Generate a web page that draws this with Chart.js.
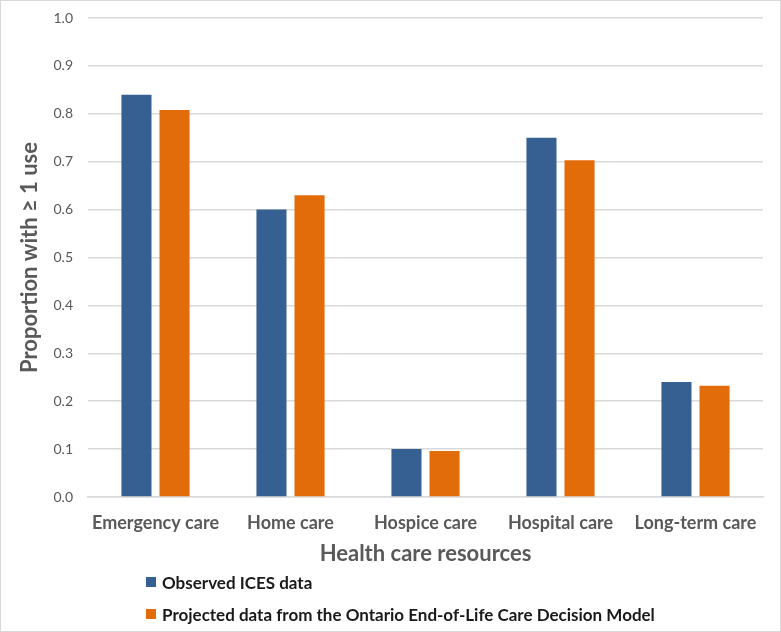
<!DOCTYPE html>
<html>
<head>
<meta charset="utf-8">
<script src="https://cdn.jsdelivr.net/npm/chart.js@4"></script>
<style>
  body { margin: 0; background: #fff; }
  #wrap { position: relative; width: 781px; height: 632px; box-sizing: border-box; border: 1px solid #d9d9d9; }
  #legend { position: absolute; left: 145px; top: 565px; font-family: Lato, "Open Sans", sans-serif; font-weight: bold; font-size: 17px; color: #1a1a1a; }
  .item { display: flex; align-items: center; height: 32px; }
  .box { width: 10px; height: 10px; margin-right: 6px; }
</style>
</head>
<body>
<div id="wrap">
  <canvas id="chart" width="779" height="630"></canvas>
  <div id="legend"></div>
</div>
<script>
const categories = ["Emergency care", "Home care", "Hospice care", "Hospital care", "Long-term care"];
const observed = [0.84, 0.60, 0.10, 0.75, 0.24];
const projected = [0.808, 0.63, 0.096, 0.703, 0.232];
const seriesNames = ["Observed ICES data", "Projected data from the Ontario End-of-Life Care Decision Model"];
const seriesColors = ["#376092", "#E36C0A"];

const font = "Lato, 'Open Sans', sans-serif";
const gray = "#595959";

new Chart(document.getElementById("chart"), {
  type: "bar",
  data: {
    labels: categories,
    datasets: [
      { label: seriesNames[0], data: observed, backgroundColor: seriesColors[0] },
      { label: seriesNames[1], data: projected, backgroundColor: seriesColors[1] },
    ],
  },
  options: {
    responsive: false,
    animation: false,
    layout: { padding: { top: 0, left: 16, right: 17, bottom: 64 } },
    datasets: { bar: { categoryPercentage: 0.564, barPercentage: 0.79 } },
    plugins: { legend: { display: false }, tooltip: { enabled: false } },
    scales: {
      x: {
        grid: { display: false, drawTicks: false },
        border: { color: "#d9d9d9", width: 1.5 },
        ticks: { color: gray, font: { family: font, size: 18, weight: "bold" }, padding: 15, maxRotation: 0 },
        title: { display: true, text: "Health care resources", color: gray, font: { family: font, size: 22, weight: "bold" }, padding: { top: -8, bottom: 0 } },
      },
      y: {
        min: 0,
        max: 1,
        afterFit: (scale) => {
          scale.width = 71;
          scale.paddingTop = 17;
          scale.paddingBottom = 9;
        },
        grid: { color: "#d9d9d9", lineWidth: 1.5, drawTicks: false },
        border: { display: false },
        ticks: { stepSize: 0.1, color: gray, font: { family: font, size: 14 }, padding: 15, callback: (v) => v.toFixed(1) },
        title: { display: true, text: "Proportion with \u2265 1 use", color: gray, font: { family: font, size: 22, weight: "bold" }, padding: { top: 0, bottom: 0 } },
      },
    },
  },
});

// legend stacked under the axis title
const legend = document.getElementById("legend");
seriesNames.forEach((name, i) => {
  const item = document.createElement("div");
  item.className = "item";
  const box = document.createElement("span");
  box.className = "box";
  box.style.background = seriesColors[i];
  item.appendChild(box);
  item.appendChild(document.createTextNode(name));
  legend.appendChild(item);
});
</script>
</body>
</html>
